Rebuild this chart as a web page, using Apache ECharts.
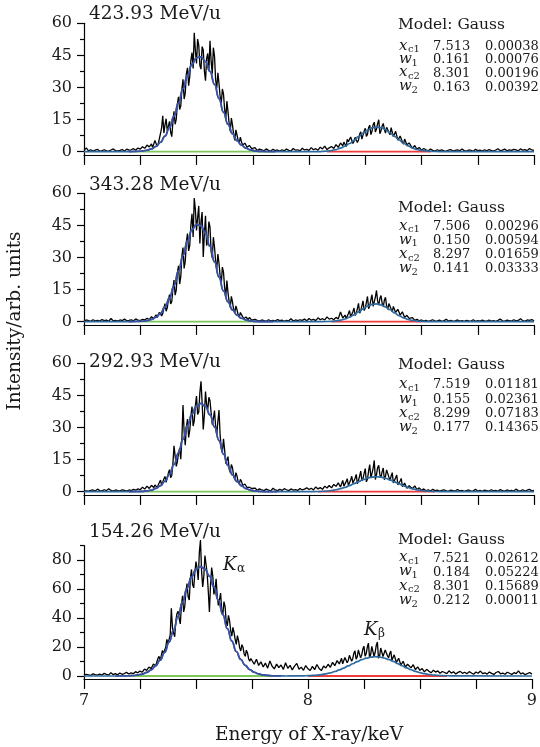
<!DOCTYPE html>
<html><head><meta charset="utf-8">
<script src="https://cdn.jsdelivr.net/npm/echarts@6/dist/echarts.min.js"></script>
<style>html,body{margin:0;padding:0;background:#fff}#c{width:540px;height:747px}</style>
</head><body><div id="c"></div><script>
// ---------- DATA ----------
const xStart = 7.0, xStep = 0.01;
const midKaStart = 7.305, midKbStart = 8.155;   // half-bin samples inside the peaks
const energies = ['423.93 MeV/u', '343.28 MeV/u', '292.93 MeV/u', '154.26 MeV/u'];
const xTickLabels = [7, 8, 9];
const yMin = [-1.5, -1.5, -1.5, -2];
const yMax = [60, 60, 60, 90];
const yMajor = [[0,15,30,45,60],[0,15,30,45,60],[0,15,30,45,60],[0,20,40,60,80]];
const yMinor = [[7.5,22.5,37.5,52.5],[7.5,22.5,37.5,52.5],[7.5,22.5,37.5,52.5],[10,30,50,70,90]];
const paramNames = [['x','c1'],['w','1'],['x','c2'],['w','2']];
const params1 = [['7.513','0.00038'],['0.161','0.00076'],['8.301','0.00196'],['0.163','0.00392']];
const params2 = [['7.506','0.00296'],['0.150','0.00594'],['8.297','0.01659'],['0.141','0.03333']];
const params3 = [['7.519','0.01181'],['0.155','0.02361'],['8.299','0.07183'],['0.177','0.14365']];
const params4 = [['7.521','0.02612'],['0.184','0.05224'],['8.301','0.15689'],['0.212','0.00011']];

const spec1 = [
0.6,1.8,0.4,0.9,0.3,0.7,1.1,0.2,0.5,0.9,
0.4,0.3,0.8,1.3,0.5,0.4,0.6,1.0,0.3,1.2,
0.7,0.9,1.4,0.8,1.7,1.2,2.3,1.6,3.1,2.2,
3.6,2.8,4.9,3.7,8.5,16.8,12.5,9.8,14.2,7.0,
18.9,15.2,25.6,21.3,33.8,27.4,39.2,35.1,46.3,55.6,
41.2,49.8,38.6,47.5,33.2,45.9,51.8,36.4,44.7,29.6,
31.8,22.5,26.9,15.3,18.7,9.6,12.4,5.3,7.8,4.1,
4.6,2.2,3.4,1.5,2.6,0.8,1.9,0.5,1.2,0.9,
0.4,1.3,0.6,0.3,1.1,0.5,0.8,0.2,0.9,0.4,
1.2,0.6,0.3,1.5,0.7,0.9,0.4,1.6,0.8,1.1,
0.6,1.9,0.9,1.4,0.7,2.1,1.3,2.6,1.0,1.8,
2.4,1.5,3.3,2.0,4.1,2.7,3.6,5.8,3.9,6.4,
4.8,7.6,5.5,9.3,6.8,10.9,8.2,12.4,9.5,13.8,
10.6,14.9,9.8,13.2,8.7,12.1,7.9,10.4,6.3,8.8,
4.9,6.7,3.5,5.2,2.4,3.8,1.6,2.9,1.1,2.0,
0.7,1.5,0.9,0.4,1.2,0.6,0.3,0.9,0.5,0.8,
0.4,0.2,0.7,1.0,0.3,0.6,0.9,0.4,1.3,0.5,
0.3,0.8,0.6,0.2,1.1,0.5,0.7,0.3,0.9,0.4,
1.0,0.6,0.3,0.8,1.4,0.5,0.7,1.2,0.4,0.9,
0.6,1.1,0.8,0.4,1.3,0.7,1.0,0.5,1.5,0.8,0.6];
const midKa1 = [1.9,5.2,2.6,6.1,11.3,8.7,15.4,11.9,9.2,13.6,
12.8,22.4,19.7,29.1,24.6,36.5,30.8,42.7,38.9,47.3,
52.6,40.3,49.1,37.8,43.6,38.1,42.3,48.6,33.5,36.9,
25.7,29.3,19.8,23.6,13.2,15.7,8.1,10.2,5.4,6.8,
3.1,4.0,2.1,2.9,1.4];
const midKb1 = [4.5,2.4,4.6,6.9,3.8,6.7,4.3,8.1,5.9,9.6,
7.1,11.3,8.0,12.6,9.2,13.1,8.4,12.0,10.5,11.4,
9.1,11.2,7.0,9.5,5.4,7.3,4.6,5.9,3.2,4.1];
const spec2 = [
0.3,0.8,0.5,0.2,0.9,0.4,0.6,0.3,1.0,0.5,
0.7,0.2,1.5,0.4,0.6,0.3,0.8,0.5,1.2,0.4,
0.6,0.9,0.4,1.3,0.7,0.5,1.1,0.8,1.6,1.0,
2.3,1.4,3.2,2.6,5.1,3.8,8.4,6.5,12.7,9.3,
19.5,14.8,26.1,20.9,34.6,28.3,41.2,35.7,50.4,57.8,
42.6,54.1,46.8,30.2,49.5,37.4,44.2,29.8,34.9,24.6,
27.3,17.8,23.1,11.5,13.6,6.8,9.1,4.2,5.6,2.1,
3.3,1.4,2.2,0.9,1.6,0.4,1.1,0.6,0.3,0.8,
0.5,0.2,0.9,0.4,0.6,0.3,1.0,0.5,0.7,0.2,
0.6,0.4,1.4,0.3,0.8,0.5,0.9,0.6,1.2,0.4,
1.5,0.7,1.1,0.5,1.8,0.9,1.4,0.8,2.2,1.2,
1.6,0.9,2.0,1.3,4.5,1.7,3.1,2.4,5.2,3.0,
6.4,3.9,8.6,5.1,9.7,6.3,11.8,7.4,12.6,8.1,
14.6,7.8,12.2,6.9,11.4,5.8,9.2,4.7,7.5,3.6,
5.4,2.5,3.9,1.8,2.7,1.0,1.9,0.6,1.1,0.4,
0.8,0.3,0.6,0.2,0.5,0.9,0.3,0.4,0.7,0.2,
0.5,1.1,0.3,0.6,0.2,0.4,0.8,0.3,0.5,0.2,
0.6,0.4,0.3,0.9,0.2,0.5,0.3,0.7,0.4,0.2,
0.8,0.3,0.5,0.2,0.6,1.2,0.4,0.3,0.7,0.5,
0.3,0.9,0.4,0.6,1.4,0.5,0.3,0.8,0.6,1.0,0.4];
const midKa2 = [3.0,2.1,1.9,4.4,2.7,6.2,4.9,10.1,8.3,15.2,
12.4,22.8,17.6,30.7,24.9,37.3,33.1,45.2,39.6,52.3,
48.7,36.5,51.2,40.9,35.6,46.8,32.7,39.5,28.1,31.6,
21.4,25.5,15.9,19.2,9.3,11.8,5.7,7.4,3.2,4.3,
2.4,1.8,1.3,2.0,0.7];
const midKb2 = [2.6,1.5,3.8,2.2,4.7,2.9,6.1,4.0,7.4,5.2,
9.0,6.1,10.3,7.2,11.5,9.6,10.8,8.7,10.1,7.2,
8.5,5.9,7.1,4.3,5.8,3.1,4.6,2.0,3.0,1.5];
const spec3 = [
0.2,0.4,0.3,0.6,0.8,0.3,1.2,0.5,0.4,0.9,
0.5,1.4,0.6,0.3,0.8,0.5,0.4,0.9,0.6,0.3,
0.8,0.5,1.1,0.7,1.3,0.9,2.1,1.2,2.6,1.5,
3.0,1.9,3.8,2.7,5.4,3.9,7.1,5.2,10.3,7.6,
21.4,11.8,17.9,15.2,40.5,21.7,33.9,28.6,39.8,33.1,
44.7,37.2,51.6,29.1,46.8,38.3,42.5,31.4,37.9,26.8,
38.2,20.5,24.7,13.1,16.4,8.9,11.2,5.7,7.4,3.6,
4.8,2.3,3.1,1.4,2.5,1.0,1.7,0.6,1.3,0.8,
0.5,1.2,0.7,0.4,1.6,0.8,0.5,1.1,0.6,1.4,
0.9,0.5,1.3,0.7,1.0,0.6,1.5,0.8,1.2,1.8,
1.0,1.6,0.8,2.2,1.3,1.9,1.1,2.6,1.7,2.9,
1.8,3.4,2.5,4.1,2.2,5.3,3.2,6.1,3.8,7.2,
4.4,8.1,5.3,9.6,6.2,10.8,5.9,12.7,7.1,14.6,
8.0,12.3,6.6,11.1,7.3,9.8,5.2,8.9,4.6,7.8,
3.7,6.2,2.9,4.9,2.0,3.6,1.4,2.7,0.9,1.8,
0.6,1.3,0.4,0.9,0.3,1.1,0.5,0.7,0.3,0.6,
0.9,0.4,0.2,0.7,0.5,0.3,1.0,0.4,0.6,0.2,
0.5,0.8,0.3,0.4,1.1,0.3,0.6,0.2,0.7,0.5,
0.3,0.9,0.4,0.6,0.2,1.0,0.5,0.3,0.8,0.4,
0.6,0.3,1.2,0.5,0.4,0.9,0.3,0.7,1.1,0.4,0.6];
const midKa3 = [2.2,3.1,2.0,4.3,3.1,6.0,4.4,8.7,6.5,12.9,
16.8,14.1,20.3,24.6,27.9,30.2,25.4,35.1,30.7,40.2,
36.1,46.3,41.7,35.8,40.6,44.1,36.7,34.2,30.5,32.9,
26.3,18.4,19.6,14.8,10.6,12.7,7.3,8.9,4.6,5.8,
2.9,3.6,1.9,2.1,1.5];
const midKb3 = [2.6,4.7,2.9,5.5,4.1,6.3,3.7,7.4,5.0,8.6,
4.6,9.8,6.3,10.9,5.7,11.2,7.9,9.4,5.6,10.2,
6.8,7.3,4.1,6.5,3.2,5.0,2.4,4.0,1.6,2.8];
const spec4 = [
0.5,1.2,0.8,0.4,1.5,0.9,0.6,1.3,0.7,1.8,
1.1,0.6,2.3,1.0,1.6,0.8,2.0,1.2,1.7,2.5,
1.4,2.1,1.6,3.0,2.2,3.4,2.6,4.8,3.9,6.2,
5.1,8.3,6.9,12.1,10.4,17.5,14.8,25.3,20.9,46.7,
29.6,38.2,44.7,35.9,55.3,48.1,63.7,52.4,73.5,60.8,
78.9,66.2,93.8,61.4,83.1,70.6,44.2,74.8,56.3,67.1,
48.7,57.2,42.5,47.9,34.6,38.2,27.5,30.1,21.8,24.6,
17.3,19.8,13.6,15.9,10.2,13.4,8.1,11.6,7.3,9.8,
6.2,8.9,5.4,10.3,6.7,4.9,8.2,5.8,7.6,4.5,
9.1,5.3,7.4,4.2,6.8,8.7,4.6,6.1,3.9,7.2,
5.0,3.8,6.6,4.4,7.9,5.2,3.7,6.9,5.5,8.1,
6.0,9.4,7.1,10.6,8.3,12.2,9.5,13.8,10.7,15.6,
11.9,17.3,13.2,19.1,14.4,20.6,15.3,22.7,14.8,21.5,
16.2,23.4,13.9,20.1,15.7,18.4,12.6,17.2,11.3,15.1,
9.8,13.0,8.2,10.9,6.9,9.3,5.6,7.8,4.4,6.3,
3.9,5.1,2.8,4.6,3.3,2.2,4.0,2.7,3.5,1.9,
3.1,2.4,1.6,3.6,2.0,2.9,1.4,2.5,3.2,1.8,
2.6,1.5,3.0,2.1,1.2,2.7,1.9,3.4,1.6,2.2,
1.3,2.8,1.8,1.1,2.4,3.1,1.5,2.0,1.2,2.6,
1.9,1.0,2.3,1.6,3.5,1.4,2.1,0.9,1.7,2.4,1.3];
const midKa4 = [4.2,9.6,7.8,13.5,9.2,15.7,19.8,22.1,28.4,33.5,
27.1,42.9,39.6,48.7,44.2,57.9,54.6,67.2,62.9,71.4,
74.3,85.2,72.5,68.7,76.9,58.3,63.5,69.1,60.2,54.8,
52.6,45.1,51.3,37.4,41.8,31.2,33.6,25.1,27.9,19.4,
21.6,15.2,17.8,11.9,12.1];
const midKb4 = [8.4,12.7,9.1,14.3,10.2,15.8,11.6,17.9,12.5,18.6,
13.7,19.9,12.8,20.4,13.6,21.1,12.2,19.3,13.4,17.9,
14.0,15.5,10.8,14.6,9.3,12.2,7.6,10.1,6.2,8.1];

const fitKa1 = [[7.20,0.02],[7.25,0.21],[7.28,0.67],[7.30,1.34],[7.32,2.5],[7.34,4.4],[7.36,7.3],[7.38,11.4],[7.40,16.6],[7.42,22.8],[7.44,29.5],[7.46,35.8],[7.48,40.9],[7.50,43.9],[7.52,44.3],[7.54,42.1],[7.56,37.5],[7.58,31.5],[7.60,24.8],[7.62,18.4],[7.64,12.8],[7.66,8.4],[7.68,5.2],[7.70,3.0],[7.72,1.63],[7.74,0.83],[7.76,0.40],[7.78,0.18],[7.80,0.08],[7.85,0.01]];
const fitKb1 = [[8.00,0.01],[8.04,0.07],[8.08,0.29],[8.10,0.55],[8.12,0.98],[8.14,1.63],[8.16,2.57],[8.18,3.82],[8.20,5.33],[8.22,7.02],[8.24,8.69],[8.26,10.1],[8.28,11.1],[8.30,11.5],[8.32,11.2],[8.34,10.3],[8.36,8.85],[8.38,7.19],[8.40,5.50],[8.42,3.96],[8.44,2.69],[8.46,1.71],[8.48,1.03],[8.50,0.58],[8.54,0.16],[8.58,0.03]];
const fitKa2 = [[7.20,0.0],[7.26,0.21],[7.28,0.49],[7.30,1.05],[7.32,2.1],[7.34,3.9],[7.36,6.9],[7.38,11.1],[7.40,16.8],[7.42,23.6],[7.44,31.0],[7.46,37.8],[7.48,43.0],[7.50,45.5],[7.52,44.8],[7.54,41.1],[7.56,35.2],[7.58,28.0],[7.60,20.8],[7.62,14.4],[7.64,9.2],[7.66,5.5],[7.68,3.1],[7.70,1.6],[7.72,0.78],[7.74,0.35],[7.76,0.15],[7.78,0.06],[7.84,0.0]];
const fitKb2 = [[8.02,0],[8.06,0.03],[8.10,0.17],[8.12,0.36],[8.14,0.69],[8.16,1.26],[8.18,2.10],[8.20,3.22],[8.22,4.57],[8.24,5.99],[8.26,7.23],[8.28,8.06],[8.30,8.3],[8.32,7.87],[8.34,6.89],[8.36,5.57],[8.38,4.15],[8.40,2.86],[8.42,1.81],[8.44,1.06],[8.46,0.57],[8.48,0.29],[8.52,0.06],[8.56,0]];
const fitKa3 = [[7.20,0],[7.26,0.15],[7.28,0.35],[7.30,0.76],[7.32,1.52],[7.34,2.86],[7.36,5.0],[7.38,8.26],[7.40,12.7],[7.42,18.2],[7.44,24.6],[7.46,30.9],[7.48,36.4],[7.50,40.1],[7.52,41.3],[7.54,39.8],[7.56,35.9],[7.58,30.3],[7.60,23.9],[7.62,17.6],[7.64,12.2],[7.66,7.9],[7.68,4.8],[7.70,2.69],[7.72,1.42],[7.74,0.70],[7.76,0.33],[7.78,0.14],[7.80,0.06],[7.86,0]];
const fitKb3 = [[7.96,0],[8.00,0.02],[8.04,0.10],[8.08,0.33],[8.10,0.56],[8.12,0.90],[8.14,1.39],[8.16,2.04],[8.18,2.83],[8.20,3.74],[8.22,4.70],[8.24,5.61],[8.26,6.35],[8.28,6.84],[8.30,7.0],[8.32,6.80],[8.34,6.29],[8.36,5.52],[8.38,4.60],[8.40,3.65],[8.42,2.75],[8.44,1.97],[8.46,1.34],[8.48,0.86],[8.50,0.53],[8.52,0.31],[8.56,0.09],[8.60,0.02],[8.64,0]];
const fitKa4 = [[7.14,0],[7.20,0.17],[7.22,0.36],[7.24,0.71],[7.26,1.35],[7.28,2.44],[7.30,4.21],[7.32,6.94],[7.34,10.9],[7.36,16.3],[7.38,23.3],[7.40,31.7],[7.42,41.2],[7.44,51.2],[7.46,60.5],[7.48,68.3],[7.50,73.5],[7.52,75.4],[7.54,73.8],[7.56,68.9],[7.58,61.4],[7.60,52.1],[7.62,42.3],[7.64,32.7],[7.66,24.1],[7.68,16.9],[7.70,11.4],[7.72,7.27],[7.74,4.44],[7.76,2.58],[7.78,1.43],[7.80,0.76],[7.82,0.38],[7.84,0.18],[7.88,0.04]];
const fitKb4 = [[7.90,0.01],[7.94,0.04],[7.98,0.14],[8.00,0.24],[8.02,0.40],[8.04,0.64],[8.06,1.00],[8.08,1.51],[8.10,2.20],[8.12,3.10],[8.14,4.20],[8.16,5.49],[8.18,6.93],[8.20,8.45],[8.22,9.93],[8.24,11.3],[8.26,12.3],[8.28,13.0],[8.30,13.3],[8.32,13.1],[8.34,12.4],[8.36,11.4],[8.38,10.1],[8.40,8.60],[8.42,7.08],[8.44,5.63],[8.46,4.32],[8.48,3.20],[8.50,2.28],[8.52,1.57],[8.54,1.05],[8.56,0.67],[8.58,0.42],[8.60,0.25],[8.64,0.08],[8.68,0.02]];
const kaBase = [[7.22,7.82],[7.24,7.78],[7.24,7.80],[7.18,7.86]];
const kbBase = [[8.08,8.54],[8.10,8.50],[8.04,8.56],[8.00,8.62]];

// ---------- LAYOUT ----------
const specs = [spec1, spec2, spec3, spec4];
const midKa = [midKa1, midKa2, midKa3, midKa4];
const midKb = [midKb1, midKb2, midKb3, midKb4];
const fitKa = [fitKa1, fitKa2, fitKa3, fitKa4];
const fitKb = [fitKb1, fitKb2, fitKb3, fitKb4];
const params = [params1, params2, params3, params4];
const gridTop = [23.3, 193.3, 363.3, 545.5];
const gridH = [131.6, 131.6, 131.6, 133.4];
const titleY = [14.5, 185, 362, 532];
const modelY = [25, 208.3, 365, 540];
const rowY = [[46.7,60,73.3,87.3],[226.7,240.7,255,269],[385,400,414,428],[558.3,572.3,586.7,601]];
const FONT = '"DejaVu Serif", "Liberation Serif", serif';
const TXT = '#1a1a1a';

function buildSpectrum(i) {
  const pts = specs[i].map((v, k) => [+(xStart + k * xStep).toFixed(3), v]);
  midKa[i].forEach((v, k) => pts.push([+(midKaStart + k * xStep).toFixed(3), v]));
  midKb[i].forEach((v, k) => pts.push([+(midKbStart + k * xStep).toFixed(3), v]));
  pts.sort((a, b) => a[0] - b[0]);
  return pts;
}

const grid = [], xAxis = [], yAxis = [], series = [], graphic = [];
for (let i = 0; i < 4; i++) {
  grid.push({left: 84, width: 450, top: gridTop[i], height: gridH[i]});
  xAxis.push({
    type: 'value', gridIndex: i, min: 7, max: 9, interval: 0.25,
    axisLine: {onZero: false, lineStyle: {color: '#000', width: 1.2}},
    axisTick: {show: true, inside: false, length: 10, lineStyle: {color: '#000', width: 1.2}},
    axisLabel: {show: i === 3, margin: 14, color: TXT, fontFamily: FONT, fontSize: 16,
      formatter: v => (xTickLabels.indexOf(v) >= 0 ? String(v) : '')},
    splitLine: {show: false}
  });
  yAxis.push({
    type: 'value', gridIndex: i, position: 'left', min: yMin[i], max: yMax[i],
    axisLine: {show: true, onZero: false, lineStyle: {color: '#000', width: 1.2}},
    axisTick: {show: true, inside: false, length: 7, customValues: yMajor[i], lineStyle: {color: '#000', width: 1.2}},
    axisLabel: {show: true, margin: 12, customValues: yMajor[i], color: TXT, fontFamily: FONT, fontSize: 16},
    splitLine: {show: false}
  });
  yAxis.push({
    type: 'value', gridIndex: i, position: 'left', min: yMin[i], max: yMax[i],
    axisLine: {show: false},
    axisTick: {show: true, inside: false, length: 4, customValues: yMinor[i], lineStyle: {color: '#000', width: 1.2}},
    axisLabel: {show: false},
    splitLine: {show: false}
  });
  const base = {type: 'line', xAxisIndex: i, yAxisIndex: 2 * i, showSymbol: false, symbol: 'none', silent: true};
  series.push(Object.assign({}, base, {data: [[kaBase[i][0], 0], [kaBase[i][1], 0]], lineStyle: {color: '#7cc65a', width: 1.8}, z: 1}));
  series.push(Object.assign({}, base, {data: [[kbBase[i][0], 0], [kbBase[i][1], 0]], lineStyle: {color: '#ee3b3b', width: 1.8}, z: 1}));
  series.push(Object.assign({}, base, {
    data: buildSpectrum(i), lineStyle: {color: '#000', width: 1.3}, z: 2, clip: false
  }));
  series.push(Object.assign({}, base, {
    data: [[7, 0]].concat(fitKa[i], fitKb[i], [[9, 0]]),
    smooth: true, smoothMonotone: 'x', lineStyle: {color: '#2e6a9e', width: 1.7}, z: 3
  }));
  series.push(Object.assign({}, base, {
    data: fitKa[i], smooth: true, smoothMonotone: 'x', lineStyle: {color: '#3d4fa3', width: 1.7}, z: 4
  }));

  const t = (x, y, text, font, extra) => ({type: 'text', x: x, y: y, z: 100, silent: true,
    style: Object.assign({text: text, font: font, fill: TXT, align: 'left', verticalAlign: 'middle'}, extra || {})});
  graphic.push(t(89, titleY[i], energies[i], '18.5px ' + FONT));
  graphic.push(t(398, modelY[i], 'Model: Gauss', '15.5px ' + FONT));
  for (let r = 0; r < 4; r++) {
    const y = rowY[i][r];
    const sym = paramNames[r];
    graphic.push(t(399, y - 1, sym[0], 'italic 15px ' + FONT));
    graphic.push(t(sym[0] === 'x' ? 408 : 411.5, y + 3, sym[1], '10px ' + FONT));
    graphic.push(t(433, y, params[i][r][0], '13px ' + FONT));
    graphic.push(t(485, y, params[i][r][1], '13px ' + FONT));
  }
  if (i === 3) {
    graphic.push(t(223, 565, 'K', 'italic 18px ' + FONT));
    graphic.push(t(237, 569, 'α', '12px ' + FONT));
    graphic.push(t(364, 630, 'K', 'italic 18px ' + FONT));
    graphic.push(t(378, 634, 'β', '12px ' + FONT));
  }
}
graphic.push({type: 'text', x: 15, y: 321, rotation: Math.PI / 2, z: 100, silent: true,
  style: {text: 'Intensity/arb. units', font: '18.5px ' + FONT, fill: TXT, align: 'center', verticalAlign: 'middle'}});
graphic.push({type: 'text', x: 309, y: 735, z: 100, silent: true,
  style: {text: 'Energy of X-ray/keV', font: '18.5px ' + FONT, fill: TXT, align: 'center', verticalAlign: 'middle'}});

const chart = echarts.init(document.getElementById('c'), null, {renderer: 'canvas'});
chart.setOption({animation: false, backgroundColor: '#fff', grid, xAxis, yAxis, series, graphic});
</script></body></html>
